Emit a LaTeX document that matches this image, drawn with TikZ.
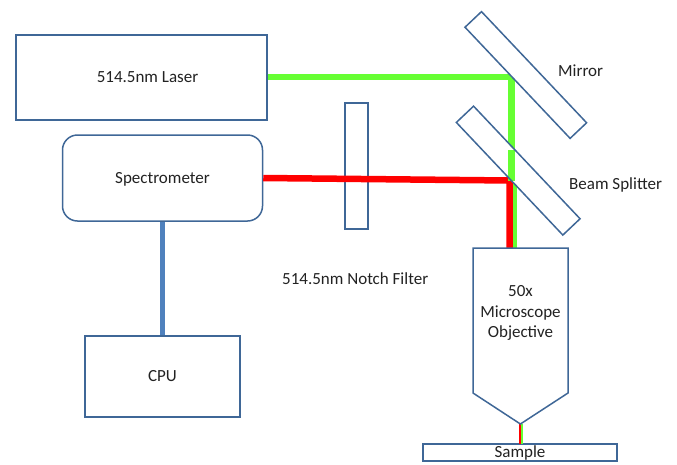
\documentclass[tikz,border=0pt]{standalone}
\usepackage{fontspec}
\setmainfont{Carlito}
\usetikzlibrary{calc}

\definecolor{edgeblue}{HTML}{3F6797}
\definecolor{cpublue}{HTML}{4F81BD}
\definecolor{lasergreen}{HTML}{66FF33}
\definecolor{ramanred}{HTML}{FF0000}
\definecolor{labelgray}{HTML}{222222}

\tikzset{
  partbox/.style={draw=edgeblue, line width=1.5pt, fill=white, text=labelgray, font=\fontsize{17}{20.5}\selectfont, inner sep=0pt, align=center},
  partlabel/.style={text=labelgray, font=\fontsize{17}{20.5}\selectfont, inner sep=0pt},
  edge/.style={draw=edgeblue, line width=1.5pt},
  beam/.style={line width=6.5pt}
}

\begin{document}
\begin{tikzpicture}[x=1pt, y=-1pt]
  \useasboundingbox (0,0) rectangle (677,464);

  \coordinate (mirrorhit) at (511.5,77);
  \coordinate (splithit) at (509.5,180.5);
  \coordinate (splitgreen) at (511.5,181);
  \coordinate (objgreen) at (515,248);
  \coordinate (objred) at (509.5,248);
  \coordinate (tipred) at (520.4,424);
  \coordinate (tipgreen) at (522.2,424);
  \coordinate (samplered) at (520.4,444);
  \coordinate (samplegreen) at (522.2,444);

  \node [partbox, minimum width=251, minimum height=85] (laser) at (141.5,77.5) {\hspace*{12pt}514.5nm Laser};
  \node [partbox, minimum width=200, minimum height=86, rounded corners=15, text depth=0pt] (spectrometer) at (162.5,178) {Spectrometer};
  \node [partbox, minimum width=155, minimum height=81] (cpu) at (162.5,376.5) {CPU};
  \node [partbox, minimum width=194, minimum height=17] (sample) at (520,452.5) {Sample};
  \node [partbox, minimum width=23, minimum height=126] (notchfilter) at (356.5,166) {};

  \draw [line width=5pt, cpublue] (spectrometer.south) -- (cpu.north);
  \draw [line width=2pt, ramanred] (tipred) -- (samplered);
  \draw [line width=1.8pt, lasergreen] (tipgreen) -- (samplegreen);

  \draw [beam, lasergreen] (laser.east |- mirrorhit) -- (mirrorhit) -- (mirrorhit |- splitgreen);
  \draw [beam, lasergreen, line width=4pt] (objgreen |- splithit) -- (objgreen);
  \draw [beam, ramanred] (spectrometer.east) -- (splithit) -- (objred);

  \node [partbox, minimum width=153, minimum height=22.7, rotate=-46.6] (mirror) at (525.8,75) {};
  \node [partbox, draw=none, minimum width=153.5, minimum height=22.2, rotate=-46.6] (splitter) at (518.2,170.6) {};

  \draw [beam, lasergreen] (511.5,150) -- (splitgreen);
  \draw [edge] (splitter.north west) -- (splitter.north east) -- (splitter.south east) -- (splitter.south west) -- cycle;

  \draw [edge, fill=white] (473,248) -- (568,248) -- (568,393) -- (tipred) -- (473,393) -- cycle;
  \node [partlabel, align=center] (objective) at (520.5,313) {50x\\Microscope\\Objective};

  \node [partlabel, anchor=west] (mirrorlabel) at (558,71) {Mirror};
  \node [partlabel, anchor=west] (splitterlabel) at (569,185) {Beam Splitter};
  \node [partlabel, anchor=west] (notchlabel) at (282,279) {514.5nm Notch Filter};
\end{tikzpicture}
\end{document}
